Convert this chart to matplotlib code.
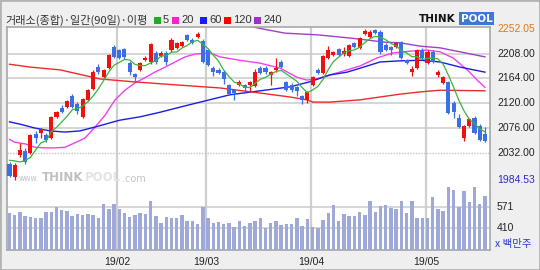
import matplotlib
matplotlib.use('Agg')
import matplotlib.pyplot as plt
import numpy as np
import pandas as pd
from matplotlib.patches import Rectangle

plt.rcParams['font.family'] = ['Noto Sans CJK KR', 'DejaVu Sans']

# ---------------- data ----------------
opens = [2012, 1990, 2029, 2035, 2032, 2065, 2067, 2064, 2058, 2096,
         2111, 2113, 2133, 2119, 2096, 2126, 2146, 2184, 2166, 2182,
         2219, 2214, 2216, 2191, 2171, 2179, 2197, 2193, 2209, 2204,
         2209, 2214, 2218, 2221, 2240, 2232, 2238, 2230, 2214, 2182,
         2179, 2175, 2152, 2143, 2152, 2152, 2152, 2151, 2182, 2182,
         2170, 2179, 2193, 2158, 2152, 2148, 2133, 2126, 2152, 2179,
         2174, 2200, 2205, 2216, 2207, 2204, 2227, 2218, 2242, 2237,
         2249, 2246, 2223, 2219, 2220, 2228, 2197, 2176, 2182, 2214,
         2191, 2211, 2170, 2156, 2158, 2120, 2094, 2058, 2080, 2094,
         2080, 2066]
highs = [2016, 2014, 2050, 2041, 2066, 2070, 2077, 2068, 2098, 2107,
         2117, 2126, 2136, 2122, 2129, 2146, 2178, 2190, 2181, 2208,
         2223, 2216, 2218, 2194, 2173, 2193, 2204, 2227, 2212, 2212,
         2212, 2235, 2229, 2231, 2243, 2235, 2246, 2233, 2216, 2185,
         2182, 2178, 2154, 2146, 2161, 2154, 2160, 2180, 2185, 2186,
         2177, 2200, 2196, 2160, 2155, 2150, 2135, 2142, 2168, 2182,
         2206, 2222, 2213, 2218, 2220, 2225, 2229, 2237, 2252, 2249,
         2252.05, 2249, 2226, 2222, 2229, 2231, 2199, 2186, 2216, 2217,
         2214, 2214, 2178, 2168, 2160, 2124, 2101, 2082, 2094, 2097,
         2083, 2078]
lows = [1989, 1984.53, 2025, 2013, 2030, 2050, 2058, 2052, 2056, 2094,
        2103, 2111, 2111, 2101, 2094, 2124, 2144, 2172, 2164, 2180,
        2200, 2198, 2199, 2170, 2160, 2177, 2195, 2190, 2190, 2201,
        2188, 2211, 2216, 2219, 2230, 2224, 2235, 2191, 2186, 2168,
        2172, 2154, 2134, 2126, 2150, 2138, 2140, 2148, 2172, 2172,
        2152, 2175, 2182, 2141, 2140, 2132, 2118, 2120, 2150, 2171,
        2172, 2198, 2203, 2203, 2203, 2202, 2218, 2216, 2240, 2235,
        2242, 2208, 2212, 2206, 2217, 2198, 2189, 2168, 2180, 2198,
        2189, 2191, 2166, 2154, 2101, 2094, 2076, 2054, 2078, 2065,
        2053, 2051]
closes = [1992, 2011, 2037, 2016, 2064, 2058, 2074, 2055, 2096, 2104,
          2105, 2124, 2113, 2106, 2127, 2143, 2175, 2175, 2179, 2205,
          2202, 2200, 2201, 2175, 2166, 2191, 2200, 2225, 2193, 2209,
          2193, 2232, 2226, 2228, 2232, 2227, 2243, 2193, 2188, 2175,
          2174, 2163, 2137, 2138, 2158, 2147, 2158, 2175, 2174, 2175,
          2175, 2182, 2184, 2143, 2143, 2142, 2126, 2140, 2166, 2174,
          2204, 2214, 2211, 2205, 2212, 2223, 2220, 2235, 2247, 2246,
          2244, 2211, 2214, 2214, 2226, 2200, 2191, 2181, 2214, 2200,
          2211, 2193, 2175, 2166, 2103, 2104, 2078, 2080, 2092, 2067,
          2055, 2053]
volumes = [522, 509, 529, 502, 497, 489, 489, 529, 529, 571,
           546, 539, 502, 517, 511, 517, 509, 489, 591, 554,
           591, 554, 522, 497, 509, 522, 514, 613, 502, 452,
           497, 489, 489, 509, 464, 464, 442, 571, 489, 447,
           457, 440, 452, 418, 467, 429, 450, 467, 489, 410,
           452, 467, 435, 442, 442, 485, 429, 479, 418, 410,
           472, 522, 581, 464, 514, 502, 502, 529, 509, 613,
           534, 576, 584, 559, 554, 613, 522, 613, 489, 489,
           485, 641, 554, 541, 716, 695, 571, 690, 608, 720,
           589, 651]

# first MA5 values (window reaches before the visible range)
ma5_head = [2019, 2018, 2016, 2019]
# moving averages: (candle index, value)
ma20_idx = [0, 1, 3, 4.9, 6.8, 8.7, 10.6, 12.5, 14.4, 16.4, 18.3, 20.2, 22.1, 24, 25.9,
            27.8, 29.8, 31.7, 33.6, 35.5, 38.4, 40.3, 44.1, 47.9, 51.8, 55, 56.9, 58.8,
            61.3, 64.6, 67.1, 70.3, 73.4, 76.6, 79.9, 82.4, 84.9, 87.6, 89.5, 91]
ma20_val = [2056, 2051, 2048, 2042, 2041, 2041, 2042, 2050, 2058, 2078, 2099, 2126, 2143,
            2156, 2165, 2175, 2184, 2193, 2202, 2207, 2209, 2202, 2196, 2191, 2182, 2166,
            2161, 2163, 2170, 2179, 2186, 2200, 2209, 2212, 2214, 2211, 2200, 2179, 2161, 2148]
ma60_idx = [0, 2, 4.9, 7.8, 10.6, 13.5, 16.4, 21.1, 25, 28.8, 32.6, 36.5, 42.2, 48, 53.7,
            57.5, 61.3, 64.6, 67.1, 70.9, 74.7, 78.6, 82.4, 86.2, 91]
ma60_val = [2087, 2083, 2076, 2071, 2069, 2071, 2078, 2090, 2096, 2104, 2113, 2122, 2135,
            2142, 2149, 2158, 2170, 2175, 2182, 2193, 2195, 2196, 2193, 2184, 2175]
ma120_idx = [0, 3.9, 9.7, 17.3, 23.6, 32.6, 40.3, 48, 53.7, 56.9, 58.1, 61.3, 67.1, 70.9,
             74.7, 78.6, 82.4, 91]
ma120_val = [2189, 2184, 2179, 2163, 2158, 2152, 2147, 2138, 2131, 2126, 2122, 2122, 2126,
             2131, 2136, 2140, 2143, 2142]
ma240_idx = [45, 47.6, 52.7, 59, 65.5, 71.9, 74.7, 78.6, 82.4, 86.2, 91]
ma240_val = [2258, 2253, 2244, 2241, 2235, 2228, 2227, 2221, 2218, 2211, 2202]

price_ticks = [2208.00, 2164.00, 2120.00, 2076.00, 2032.00]
price_max, price_min = 2252.05, 1984.53
vol_ticks = [571, 410]
month_labels = ['19/02', '19/03', '19/04', '19/05']
month_pos = [20.6, 37.6, 57.7, 79.7]

# ---------------- figure ----------------
W, H = 540, 270
fig = plt.figure(figsize=(5.4, 2.7), dpi=100)
fig.patch.set_facecolor('#efefef')

def fx(px):
    return px / W

def fy(py):
    return 1 - py / H

L, R = 7, 490
TOP, MID, BOT = 27, 182, 250
axp = fig.add_axes([fx(L), fy(MID), (R - L) / W, (MID - TOP) / H])
axv = fig.add_axes([fx(L), fy(BOT), (R - L) / W, (BOT - MID) / H], sharex=axp)

n = len(closes)
x = np.arange(n)
o = np.array(opens, float); c = np.array(closes, float)
hi = np.array(highs, float); lo = np.array(lows, float)
up = c >= o
RED, BLUE = '#f01010', '#3a6fe6'
cols = np.where(up, RED, BLUE)

for ax in (axp, axv):
    ax.set_facecolor('white')
    ax.set_xlim(-0.48, 91.96)
    ax.set_xticks([]); ax.set_yticks([])
    for s in ax.spines.values():
        s.set_color('#a8a8a8'); s.set_linewidth(1.2)
    for p in month_pos:
        ax.axvline(p, color='#cfcfcf', lw=1.6, zorder=0)
axp.spines['bottom'].set_visible(False)
axv.spines['top'].set_visible(False)

axp.set_ylim(1980.6, 2254.9)
for t in price_ticks:
    if t == 2032.00:
        axp.axhline(t, color='#c4c4c4', lw=1.0, ls=(0, (1, 1)), zorder=0)
    else:
        axp.axhline(t, color='#cccccc', lw=1.1, zorder=0)

# watermark
fig.text(fx(19), fy(178.5), 'www.', fontsize=5.5, color='#c4c4c4', va='center',
         ha='left', family='DejaVu Sans')
fig.text(fx(42), fy(177.5), 'THINK', fontsize=8.5, color='#c0c0c0', va='center',
         ha='left', weight='bold', family='DejaVu Sans')
fig.text(fx(84.5), fy(177.5), 'POOL', fontsize=8.5, color='#e4e4e4', va='center',
         ha='left', weight='bold', family='DejaVu Sans')
fig.text(fx(122), fy(178.5), '.com', fontsize=7, color='#c4c4c4', va='center',
         ha='left', family='DejaVu Sans')

# candles
axp.vlines(x, lo, hi, colors=cols, lw=0.9, zorder=3)
body_lo = np.minimum(o, c)
body_h = np.maximum(np.abs(c - o), 0.9)
axp.bar(x, body_h, bottom=body_lo, width=0.78, color=cols, lw=0, zorder=4)

# moving averages
ma5 = pd.Series(c).rolling(5).mean().to_numpy()
ma5[:4] = ma5_head
axp.plot(x, ma5, color='#3cb43c', lw=0.9, zorder=5)
axp.plot(ma20_idx, ma20_val, color='#f040f0', lw=1.0, zorder=2)
axp.plot(ma60_idx, ma60_val, color='#1c1ce6', lw=1.0, zorder=2)
axp.plot(ma120_idx, ma120_val, color='#ee2a2a', lw=1.0, zorder=2)
axp.plot(ma240_idx, ma240_val, color='#a040c8', lw=1.0, zorder=2)

# volume
axv.set_ylim(248, 755)
for t in vol_ticks:
    axv.axhline(t, color='#cccccc', lw=1.1, zorder=0)
axv.bar(x, volumes, width=0.66, color='#9ea9d8', lw=0, zorder=3)

# right labels
lab_kw = dict(fontsize=7.5, family='Liberation Sans', va='center', ha='left')
ytr = axp.get_yaxis_transform()
axp.text(1.0145, price_max, f'{price_max:.2f}', transform=ytr, color='#e07a18',
         clip_on=False, **lab_kw)
for t in price_ticks:
    axp.text(1.0145, t, f'{t:.2f}', transform=ytr, color='#222222', clip_on=False, **lab_kw)
axp.text(1.0145, price_min, f'{price_min:.2f}', transform=ytr, color='#2a2acc',
         clip_on=False, **lab_kw)
vtr = axv.get_yaxis_transform()
for t in vol_ticks:
    axv.text(1.0145, t, f'{t}', transform=vtr, color='#222222', clip_on=False, **lab_kw)
axv.text(1.01, 0.09, 'x 백만주', transform=axv.transAxes, color='#2a3ad0',
         fontsize=7.5, va='center', ha='left', clip_on=False)

# month labels
xtr = axv.get_xaxis_transform()
for p, s in zip(month_pos, month_labels):
    axv.text(p, -0.18, s, transform=xtr, ha='center', va='center', fontsize=7.5,
             family='Liberation Sans', color='#222222', clip_on=False)

# header
fig.text(fx(5), fy(20), '거래소(종합)·일간(90일)·이평', fontsize=8, color='#333333',
         va='center', ha='left')
legend = [(154, '#22aa22', '5'), (172, '#ff22cc', '20'), (200, '#1a1aff', '60'),
          (224, '#ff0000', '120'), (254, '#9933cc', '240')]
for px, col, s in legend:
    fig.patches.append(Rectangle((fx(px), fy(23.5)), 7 / W, 7 / H, transform=fig.transFigure,
                                 facecolor=col, edgecolor='none'))
    fig.text(fx(px + 9), fy(20), s, fontsize=8, color='#333333', va='center', ha='left',
             family='Liberation Sans')

# logo
fig.text(fx(419), fy(18.5), 'THINK', fontsize=7.5, color='#111111', weight='bold',
         va='center', ha='left', family='DejaVu Sans')
fig.text(fx(461), fy(18.5), 'POOL', fontsize=7.5, color='white', weight='bold',
         va='center', ha='left', family='DejaVu Sans',
         bbox=dict(facecolor='#3b78d8', edgecolor='none', pad=1.2))

fig.patches.append(Rectangle((0, 0), 1, 1, transform=fig.transFigure, fill=False,
                             edgecolor='#b4b4b4', lw=2))

fig.savefig('out.png', dpi=100, facecolor=fig.get_facecolor())
